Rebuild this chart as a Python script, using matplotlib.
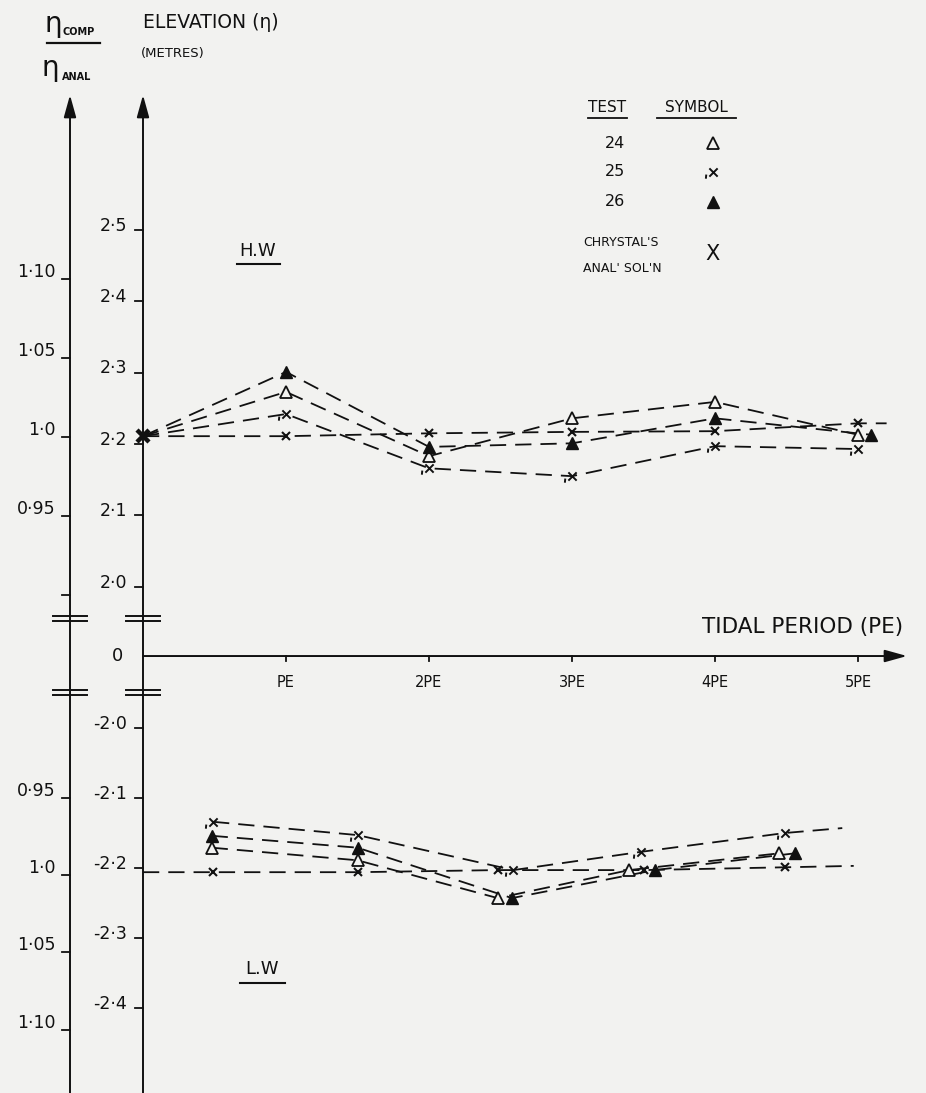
import numpy as np
import matplotlib
matplotlib.use("Agg")
import matplotlib.pyplot as plt
from matplotlib.lines import Line2D
from matplotlib.path import Path

# ---------------- data (elevation in metres, x in tidal periods) ----------------
HW_X = [0, 1, 2, 3, 4, 5]
HW_TEST24 = [2.211, 2.273, 2.183, 2.236, 2.259, 2.213]
HW_TEST25 = [2.211, 2.242, 2.166, 2.155, 2.197, 2.193]
HW_TEST26_X = [0, 1, 2, 3, 4, 5.09]
HW_TEST26 = [2.211, 2.301, 2.196, 2.201, 2.236, 2.213]
HW_CHRYSTAL_X = [0, 1, 2, 3, 4, 5, 5.2]
HW_CHRYSTAL = [2.211, 2.211, 2.215, 2.217, 2.218, 2.229, 2.229]

LW_TEST24_X = [0.48, 1.50, 2.48, 3.40, 4.45]
LW_TEST24 = [-2.171, -2.189, -2.243, -2.203, -2.179]
LW_TEST25_X = [0.49, 1.50, 2.59, 3.48, 4.49, 4.89]
LW_TEST25 = [-2.134, -2.153, -2.203, -2.177, -2.150, -2.143]
LW_TEST26_X = [0.48, 1.50, 2.58, 3.58, 4.56]
LW_TEST26 = [-2.154, -2.171, -2.243, -2.203, -2.179]
LW_CHRYSTAL_X = [0, 0.49, 1.50, 2.48, 3.50, 4.49, 4.97]
LW_CHRYSTAL = [-2.206, -2.206, -2.206, -2.203, -2.203, -2.199, -2.197]

ELEV_HW_TICKS = [2.0, 2.1, 2.2, 2.3, 2.4, 2.5]
ELEV_HW_LABELS = ["2·0", "2·1", "2·2", "2·3", "2·4", "2·5"]
ELEV_LW_TICKS = [-2.0, -2.1, -2.2, -2.3, -2.4]
ELEV_LW_LABELS = ["-2·0", "-2·1", "-2·2", "-2·3", "-2·4"]
RATIO_HW_TICKS = [0.90, 0.95, 1.0, 1.05, 1.10]
RATIO_HW_LABELS = ["", "0·95", "1·0", "1·05", "1·10"]
RATIO_LW_TICKS = [0.95, 1.0, 1.05, 1.10]
RATIO_LW_LABELS = ["0·95", "1·0", "1·05", "1·10"]
ETA_ANAL_HW = 2.21
ETA_ANAL_LW = -2.21
PERIOD_TICKS = [1, 2, 3, 4, 5]
PERIOD_LABELS = ["PE", "2PE", "3PE", "4PE", "5PE"]

W, H = 926, 1093
BG = "#f2f2f0"
INK = "#111111"

# broken elevation scale: high water on top, a squeezed band round 0, low water below
_ETA_K = np.array([-10.0, -1.95, 1.955, 10.0])
_PX_K = np.array([728 + 8.0 * 700, 693, 619, 444 - 7.8 * 714])


def fwd(e):
    return -np.interp(e, _ETA_K, _PX_K)


def inv(t):
    return np.interp(t, -_PX_K, _ETA_K)


def fp(px, py):
    """pixel position -> figure fraction"""
    return px / W, 1 - py / H


def fig_line(x0, x1, y0, y1=None, lw=1.3):
    y1 = y0 if y1 is None else y1
    a, b = fp(x0, y0)
    c, d = fp(x1, y1)
    fig.add_artist(Line2D([a, c], [b, d], transform=fig.transFigure,
                          color=INK, lw=lw))


def fig_text(px, py, s, **kw):
    kw.setdefault("color", INK)
    kw.setdefault("va", "center")
    fig.text(*fp(px, py), s, **kw)


# marker for test 25: a small x with the little comma tick in front
M25 = Path([(-1, -1), (1, 1), (-1, 1), (1, -1), (-1.75, -0.5), (-1.85, -1.5)],
           [Path.MOVETO, Path.LINETO] * 3)

STY = {
    "t24": dict(marker="^", ms=8, mfc=BG, mec=INK, mew=1.3),
    "t25": dict(marker=M25, ms=11, mfc="none", mec=INK, mew=1.4),
    "t26": dict(marker="^", ms=8, mfc=INK, mec=INK, mew=1.0),
    "chr": dict(marker="x", ms=6, mec=INK, mew=1.5),
}
LINE = dict(color=INK, lw=1.3, ls=(0, (9, 5)))

fig = plt.figure(figsize=(W / 100, H / 100), dpi=100, facecolor=BG)
ax = fig.add_axes([0, 0, 1, 1])
ax.set_facecolor(BG)
ax.set_yscale("function", functions=(fwd, inv))
ax.set_xlim(-1.0, (W - 143) / 143)
ax.set_ylim(-2.0 - (H - 728) / 700, 2.2 + 444 / 714)
ax.axis("off")

# ---------------- axes ----------------
arrow = dict(arrowstyle="-|>,head_length=0.9,head_width=0.25", color=INK,
             lw=1.4, mutation_scale=15, shrinkA=0, shrinkB=0)
y_bot = ax.get_ylim()[0]
y_top = 2.2 + (444 - 95) / 714
x_ratio = (70 - 143) / 143
ax.annotate("", xy=(0, y_top), xytext=(0, y_bot), arrowprops=arrow)
ax.annotate("", xy=(x_ratio, y_top), xytext=(x_ratio, y_bot), arrowprops=arrow)
ax.annotate("", xy=((907 - 143) / 143, 0), xytext=(0, 0), arrowprops=arrow)

tk = 8 / 143
for v, lab in zip(ELEV_HW_TICKS + ELEV_LW_TICKS, ELEV_HW_LABELS + ELEV_LW_LABELS):
    ax.plot([-tk, 0], [v, v], color=INK, lw=1.3)
    ax.text(-0.11, v + 0.006, lab, ha="right", va="center",
            fontsize=12.5, color=INK)
for r, lab in zip(RATIO_HW_TICKS, RATIO_HW_LABELS):
    v = ETA_ANAL_HW * r
    ax.plot([x_ratio - tk, x_ratio], [v, v], color=INK, lw=1.3)
    ax.text(x_ratio - 0.1, v + 0.01, lab, ha="right", va="center",
            fontsize=12.5, color=INK)
for r, lab in zip(RATIO_LW_TICKS, RATIO_LW_LABELS):
    v = ETA_ANAL_LW * r
    ax.plot([x_ratio - tk, x_ratio], [v, v], color=INK, lw=1.3)
    ax.text(x_ratio - 0.1, v + 0.01, lab, ha="right", va="center",
            fontsize=12.5, color=INK)

for p, lab in zip(PERIOD_TICKS, PERIOD_LABELS):
    ax.plot([p, p], [0, -0.25], color=INK, lw=1.3)
    ax.annotate(lab, (p, 0), xytext=(0, -19), textcoords="offset points",
                ha="center", va="center", fontsize=10.5, color=INK)
ax.text(-0.18, 0, "0", ha="center", va="center", fontsize=13, color=INK)

# axis breaks
for xa in (70, 143):
    for yb in (616, 621, 690, 695):
        fig_line(xa - 17, xa + 17, yb, lw=1.4)

# ---------------- series ----------------
def series(x, y, sty, start_mark=True, tail=False):
    n = len(x)
    first = 0 if start_mark else 1
    last = n - 1 if tail else n
    ax.plot(x, y, **LINE, zorder=2)
    ax.plot(x[first:last], y[first:last], ls="none", zorder=3, **STY[sty])


series(HW_X, HW_TEST24, "t24", start_mark=False)
series(HW_X, HW_TEST25, "t25", start_mark=False)
series(HW_TEST26_X, HW_TEST26, "t26", start_mark=False)
series(HW_CHRYSTAL_X, HW_CHRYSTAL, "chr", start_mark=False, tail=True)
ax.plot(HW_X[0], HW_TEST24[0], marker="x", ms=8, mew=3.2, color=INK, zorder=4)

series(LW_TEST24_X, LW_TEST24, "t24")
series(LW_TEST25_X, LW_TEST25, "t25", tail=True)
series(LW_TEST26_X, LW_TEST26, "t26")
series(LW_CHRYSTAL_X, LW_CHRYSTAL, "chr", start_mark=False, tail=True)

# ---------------- labels ----------------
fig_text(53, 24, "η", fontsize=20, ha="center")
fig_text(62, 32, "COMP", fontsize=7, fontweight="bold", ha="left")
fig_line(47, 100, 43, lw=1.6)
fig_text(50, 68, "η", fontsize=20, ha="center")
fig_text(62, 77, "ANAL", fontsize=7, fontweight="bold", ha="left")

fig_text(143, 22, "ELEVATION (η)", fontsize=13.5, ha="left")
fig_text(141, 54, "(METRES)", fontsize=9.5, ha="left")

fig_text(702, 627, "TIDAL PERIOD (PE)", fontsize=15.5, ha="left")

fig_text(258, 251, "H.W", fontsize=13, ha="center")
fig_line(237, 280, 264, lw=1.5)
fig_text(262, 969, "L.W", fontsize=13, ha="center")
fig_line(240, 285, 983, lw=1.5)

# legend
fig_text(607, 107, "TEST", fontsize=11, ha="center")
fig_line(588, 627, 118, lw=1.3)
fig_text(696, 107, "SYMBOL", fontsize=11, ha="center")
fig_line(657, 736, 118, lw=1.3)
LEG_ROWS = [("24", "t24", 143), ("25", "t25", 172), ("26", "t26", 202)]
for num, sty, py in LEG_ROWS:
    fig_text(615, py, num, fontsize=11.5, ha="center")
    ax.plot(*fp(713, py), transform=fig.transFigure, clip_on=False,
            ls="none", **STY[sty])
fig_text(583, 243, "CHRYSTAL'S", fontsize=9, ha="left")
fig_text(583, 269, "ANAL' SOL'N", fontsize=9, ha="left")
fig_text(712, 254, "X", fontsize=15, ha="center")

fig.savefig("out.png", dpi=100, facecolor=BG)
